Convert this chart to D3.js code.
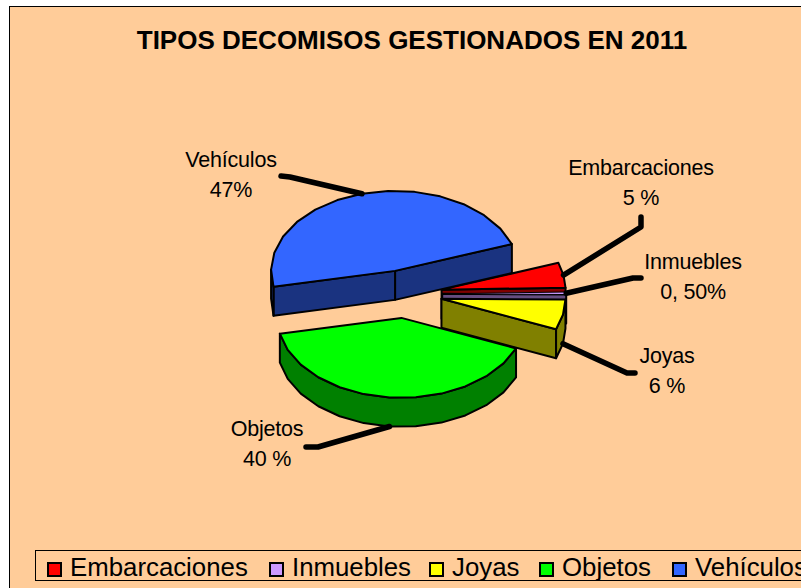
<!DOCTYPE html>
<html>
<head>
<meta charset="utf-8">
<script src="https://cdnjs.cloudflare.com/ajax/libs/d3/7.8.5/d3.min.js"></script>
<style>
  html, body { margin: 0; padding: 0; background: #fff; }
  svg { display: block; }
  text { font-family: "Liberation Sans", Arial, sans-serif; fill: #000; }
</style>
</head>
<body>
<script>
// chart values
var categories = ["Embarcaciones", "Inmuebles", "Joyas", "Objetos", "Vehículos"];
var values = [5, 0.5, 6, 40, 47];
var sliceLabels = ["5 %", "0, 50%", "6 %", "40 %", "47%"];
var topColors = ["#ff0000", "#cc99ff", "#ffff00", "#00ff00", "#3366ff"];
var wallColors = ["#800000", "#664d80", "#808000", "#008000", "#1a3380"];

var width = 801, height = 588;

// pseudo 3d pie setup
var cx = 405, cy = 294, rx = 124, ry = 80, depth = 29, explode = 0.3;
var startDeg = 70.4;

// label anchors and leader line ends, same order as categories
var labelPos = [[641, 175], [693, 269], [667, 363], [267, 436], [231, 167]];
var leaderEnds = [[[641, 227], [641, 217]], [[633, 278], [641, 278]], [[627, 373], [635, 373]],
  [[318, 447], [306, 447]], [[290, 177], [281, 176]]];

var svg = d3.select("body").append("svg")
  .attr("width", width)
  .attr("height", height);

svg.append("rect")
  .attr("x", 9.5).attr("y", 6.5)
  .attr("width", 800).attr("height", 600)
  .attr("fill", "#ffcc99")
  .attr("stroke", "#000");

svg.append("text")
  .attr("x", 412).attr("y", 49)
  .attr("text-anchor", "middle")
  .style("font-size", "26px")
  .style("font-weight", "bold")
  .text("TIPOS DECOMISOS GESTIONADOS EN 2011");

var pie = d3.pie().sort(null)
  .startAngle(startDeg * Math.PI / 180)
  .endAngle((startDeg + 360) * Math.PI / 180);
var arcs = pie(values);

var line = d3.line();

function onRim(c, a) {
  return [c[0] + rx * Math.sin(a), c[1] - ry * Math.cos(a)];
}

arcs.forEach(function(d, i) {
  var mid = (d.startAngle + d.endAngle) / 2;
  var c = [cx + explode * rx * Math.sin(mid), cy - explode * ry * Math.cos(mid)];

  // rim sampled coarsely, the original ellipse is a rough polygon as well
  var steps = Math.max(1, Math.round((d.endAngle - d.startAngle) / (12 * Math.PI / 180)));
  var rim = d3.range(steps + 1).map(function(k) {
    return onRim(c, d.startAngle + (d.endAngle - d.startAngle) * k / steps);
  });

  var g = svg.append("g");

  function wall(pts) {
    var down = pts.map(function(p) { return [p[0], p[1] + depth]; }).reverse();
    g.append("path")
      .attr("d", line(pts.concat(down)) + "Z")
      .attr("fill", wallColors[i])
      .attr("stroke", "#000")
      .attr("stroke-width", 2)
      .attr("stroke-linejoin", "round");
  }

  // only faces that turn to the viewer (edge running leftwards on screen)
  var first = rim[0], last = rim[rim.length - 1];
  if (c[0] < last[0]) wall([last, c]);
  if (first[0] < c[0]) wall([c, first]);
  var front = [];
  for (var k = 0; k < rim.length; k++) {
    var goingLeft = (k < rim.length - 1 && rim[k + 1][0] < rim[k][0]) ||
      (k > 0 && rim[k][0] < rim[k - 1][0]);
    if (goingLeft) front.push(rim[k]);
  }
  if (front.length > 1) wall(front);

  g.append("path")
    .attr("d", line([c].concat(rim)) + "Z")
    .attr("fill", topColors[i])
    .attr("stroke", "#000")
    .attr("stroke-width", d.endAngle - d.startAngle < 0.1 ? 1 : 2)
    .attr("stroke-linejoin", "round");
});

// leaders go on top of the pie
arcs.forEach(function(d, i) {
  var mid = (d.startAngle + d.endAngle) / 2;
  var c = [cx + explode * rx * Math.sin(mid), cy - explode * ry * Math.cos(mid)];
  var p = onRim(c, mid);
  if (Math.cos(mid) < -0.05) p[1] += depth;
  svg.append("path")
    .attr("d", line([p].concat(leaderEnds[i])))
    .attr("fill", "none")
    .attr("stroke", "#000")
    .attr("stroke-width", 5.5)
    .attr("stroke-linecap", "round")
    .attr("stroke-linejoin", "round");

  var t = svg.append("text")
    .attr("text-anchor", "middle")
    .style("font-size", "21.5px")
    .style("letter-spacing", "-0.2px");
  t.append("tspan").attr("x", labelPos[i][0]).attr("y", labelPos[i][1]).text(categories[i]);
  t.append("tspan").attr("x", labelPos[i][0]).attr("y", labelPos[i][1] + 30).text(sliceLabels[i]);
});

// legend runs off the right edge like in the picture
svg.append("rect")
  .attr("x", 35.5).attr("y", 550.5)
  .attr("width", 800).attr("height", 30)
  .attr("fill", "#ffcc99")
  .attr("stroke", "#000");

var legendX = d3.scaleOrdinal().domain(categories).range([47, 269, 429, 539, 672]);

categories.forEach(function(name, i) {
  var g = svg.append("g").attr("transform", "translate(" + legendX(name) + ",0)");
  g.append("rect")
    .attr("x", 1).attr("y", 563)
    .attr("width", 13).attr("height", 13)
    .attr("fill", topColors[i])
    .attr("stroke", "#000")
    .attr("stroke-width", 2);
  g.append("text")
    .attr("x", 23).attr("y", 576)
    .style("font-size", "25.8px")
    .text(name);
});
</script>
</body>
</html>
